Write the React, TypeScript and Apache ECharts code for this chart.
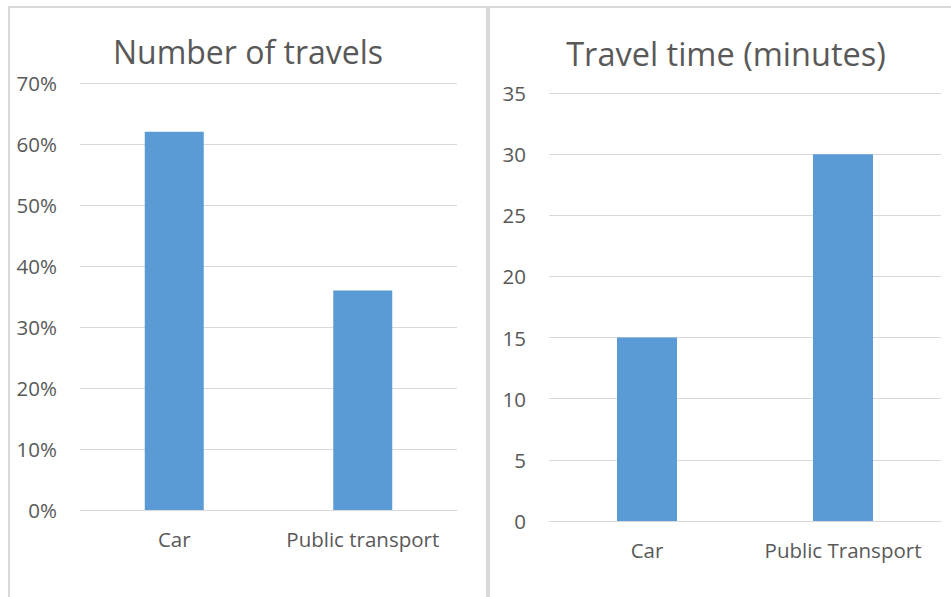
import React, { useEffect, useRef } from "react";
import * as echarts from "echarts";

const travelCategories = ["Car", "Public transport"];
const travelShares = [0.62, 0.36];
const timeCategories = ["Car", "Public Transport"];
const travelMinutes = [15, 30];
const leftTitle = "Number of travels";
const rightTitle = "Travel time (minutes)";

const FONT = "Open Sans";
const TEXT = "#595959";
const GRID = "#D9D9D9";
const BAR = "#5B9BD5";

export default function App() {
  const ref = useRef<HTMLDivElement>(null);
  useEffect(() => {
    const chart = echarts.init(ref.current!, null, { renderer: "svg" });
    const axisLabel = { color: TEXT, fontSize: 20.5, fontFamily: FONT };
    chart.setOption({
      animation: false,
      backgroundColor: "#fff",
      textStyle: { fontFamily: FONT },
      title: [
        {
          text: leftTitle,
          left: 243,
          top: 30,
          textAlign: "center",
          textStyle: { color: TEXT, fontSize: 32, fontWeight: "normal", fontFamily: FONT },
        },
        {
          text: rightTitle,
          left: 721,
          top: 32,
          textAlign: "center",
          textStyle: { color: TEXT, fontSize: 32.5, fontWeight: "normal", fontFamily: FONT },
        },
      ],
      graphic: [
        { type: "rect", shape: { x: 8, y: 6, width: 943, height: 2 }, style: { fill: "#D9D9D9" } },
        { type: "rect", shape: { x: 8, y: 6, width: 2, height: 591 }, style: { fill: "#D9D9D9" } },
        { type: "rect", shape: { x: 486, y: 6, width: 4, height: 591 }, style: { fill: "#D9D9D9" } },
      ],
      grid: [
        { left: 80, top: 83, width: 377, height: 427 },
        { left: 549, top: 93, width: 392, height: 428 },
      ],
      xAxis: [
        {
          type: "category",
          gridIndex: 0,
          data: travelCategories,
          axisLine: { show: true, lineStyle: { color: GRID, width: 1 } },
          axisTick: { show: false },
          axisLabel: { ...axisLabel, margin: 18, interval: 0, hideOverlap: false },
        },
        {
          type: "category",
          gridIndex: 1,
          data: timeCategories,
          axisLine: { show: true, lineStyle: { color: GRID, width: 1 } },
          axisTick: { show: false },
          axisLabel: { ...axisLabel, margin: 18, interval: 0, hideOverlap: false },
        },
      ],
      yAxis: [
        {
          type: "value",
          gridIndex: 0,
          min: 0,
          max: 0.7,
          interval: 0.1,
          axisLine: { show: false },
          axisTick: { show: false },
          splitLine: { lineStyle: { color: GRID, width: 1 } },
          axisLabel: {
            ...axisLabel,
            margin: 23,
            formatter: (v: number) => Math.round(v * 100) + "%",
          },
        },
        {
          type: "value",
          gridIndex: 1,
          min: 0,
          max: 35,
          interval: 5,
          axisLine: { show: false },
          axisTick: { show: false },
          splitLine: { lineStyle: { color: GRID, width: 1 } },
          axisLabel: { ...axisLabel, margin: 23 },
        },
      ],
      series: [
        {
          type: "bar",
          xAxisIndex: 0,
          yAxisIndex: 0,
          data: travelShares,
          barWidth: 59,
          itemStyle: { color: BAR },
        },
        {
          type: "bar",
          xAxisIndex: 1,
          yAxisIndex: 1,
          data: travelMinutes,
          barWidth: 60,
          itemStyle: { color: BAR },
        },
      ],
    });
    return () => chart.dispose();
  }, []);
  return (
    <div
      ref={ref}
      style={{ position: "absolute", left: 0, top: 0, width: 951, height: 597 }}
    />
  );
}
